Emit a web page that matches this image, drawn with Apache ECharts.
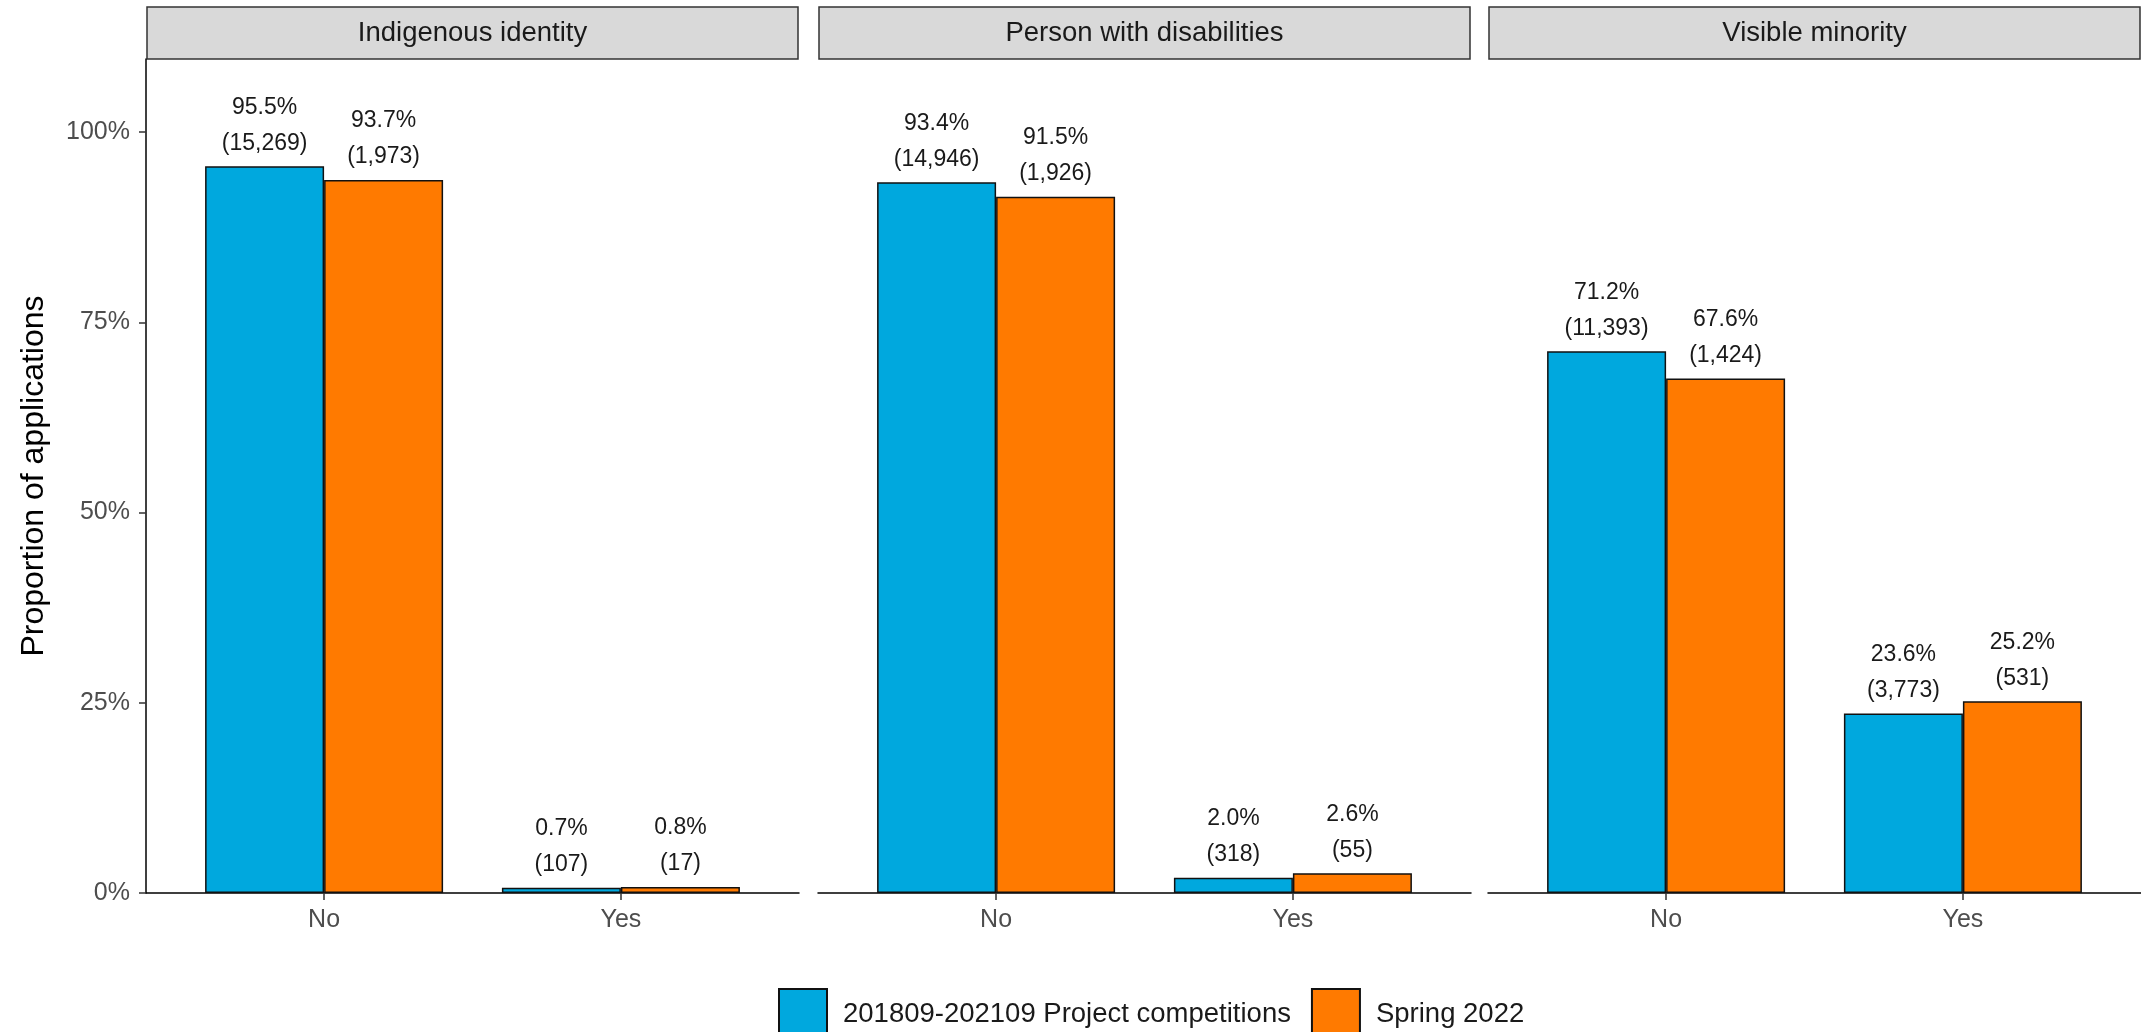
<!DOCTYPE html>
<html><head><meta charset="utf-8">
<script src="https://cdn.jsdelivr.net/npm/echarts@6/dist/echarts.min.js"></script>
<style>html,body{margin:0;padding:0;background:#fff}#c{width:2141px;height:1032px}</style>
</head><body><div id="c"></div>
<script>
const panels = ['Indigenous identity', 'Person with disabilities', 'Visible minority'];
const categories = ['No', 'Yes'];
const seriesNames = ['201809-202109 Project competitions', 'Spring 2022'];
// percentages [panel][category]
const pctA = [[95.5, 0.7], [93.4, 2.0], [71.2, 23.6]];
const pctB = [[93.7, 0.8], [91.5, 2.6], [67.6, 25.2]];
// counts [panel][category]
const cntA = [[15269, 107], [14946, 318], [11393, 3773]];
const cntB = [[1973, 17], [1926, 55], [1424, 531]];
const yTicks = [0, 25, 50, 75, 100];

const FONT = '"Liberation Sans", Arial, sans-serif';
const colors = ['#00A8DE', '#FF7A00'];
const panelLeft = [146, 818, 1488];
const panelW = 653;
const gridTop = 59, gridBottomY = 893;

const grids = [], xAxes = [], yAxes = [], series = [], graphics = [];
function fmtCount(n){ return n.toLocaleString('en-US'); }

panels.forEach((name, i) => {
  grids.push({left: panelLeft[i], width: panelW, top: gridTop, height: gridBottomY - gridTop, containLabel: false});
  xAxes.push({
    type: 'value', gridIndex: i, min: 0.4, max: 2.6,
    axisLine: {show: true, lineStyle: {color: '#000', width: 1.5}},
    axisTick: {show: true, length: 7, lineStyle: {color: '#333', width: 1.5}, customValues: [1, 2]},
    axisLabel: {customValues: [1, 2], formatter: v => categories[Math.round(v) - 1] || '',
      color: '#4D4D4D', fontSize: 25, fontFamily: FONT, margin: 15},
    splitLine: {show: false}
  });
  yAxes.push({
    type: 'value', gridIndex: i, min: 0, max: 109.6,
    show: i === 0,
    name: i === 0 ? 'Proportion of applications' : '',
    nameLocation: 'middle', nameRotate: 90, nameGap: 96,
    nameTextStyle: {fontSize: 32, color: '#000', fontFamily: FONT},
    axisLine: {show: true, lineStyle: {color: '#000', width: 1.5}},
    axisTick: {show: true, length: 7, lineStyle: {color: '#333', width: 1.5}, customValues: yTicks},
    axisLabel: {customValues: yTicks, formatter: v => v + '%', color: '#4D4D4D', fontSize: 25, fontFamily: FONT, margin: 16},
    splitLine: {show: false}
  });
  [[pctA, cntA], [pctB, cntB]].forEach(([p, c], s) => {
    series.push({
      type: 'bar', name: seriesNames[s], xAxisIndex: i, yAxisIndex: i,
      barWidth: 119, barGap: '0%',
      itemStyle: {color: colors[s], borderColor: '#111', borderWidth: 1.5},
      data: categories.map((cat, k) => ({value: [k + 1, p[i][k]], cnt: c[i][k]})),
      label: {show: true, position: 'top', distance: 5,
        formatter: prm => prm.value[1].toFixed(1) + '%\n(' + fmtCount(prm.data.cnt) + ')',
        color: '#1A1A1A', fontSize: 23, lineHeight: 36, fontFamily: FONT},
      emphasis: {disabled: true}, animation: false
    });
  });
  graphics.push({type: 'rect', shape: {x: panelLeft[i] + 1, y: 7, width: panelW - 2, height: 52},
    style: {fill: '#D9D9D9', stroke: '#333', lineWidth: 1.5}});
  graphics.push({type: 'text', x: panelLeft[i] + panelW / 2, y: 33,
    style: {text: name, fill: '#1A1A1A', fontSize: 27.5, fontFamily: FONT, align: 'center', verticalAlign: 'middle'}});
});

const chart = echarts.init(document.getElementById('c'), null, {renderer: 'canvas'});
chart.setOption({
  animation: false,
  backgroundColor: '#fff',
  grid: grids, xAxis: xAxes, yAxis: yAxes, series: series,
  graphic: graphics,
  legend: {
    data: seriesNames, left: 773, top: 983, itemWidth: 48, itemHeight: 50, itemGap: 20,
    icon: 'rect',
    textStyle: {fontSize: 27.5, color: '#1A1A1A', fontFamily: FONT, padding: [0, 0, 0, 11]}
  }
});
</script></body></html>
